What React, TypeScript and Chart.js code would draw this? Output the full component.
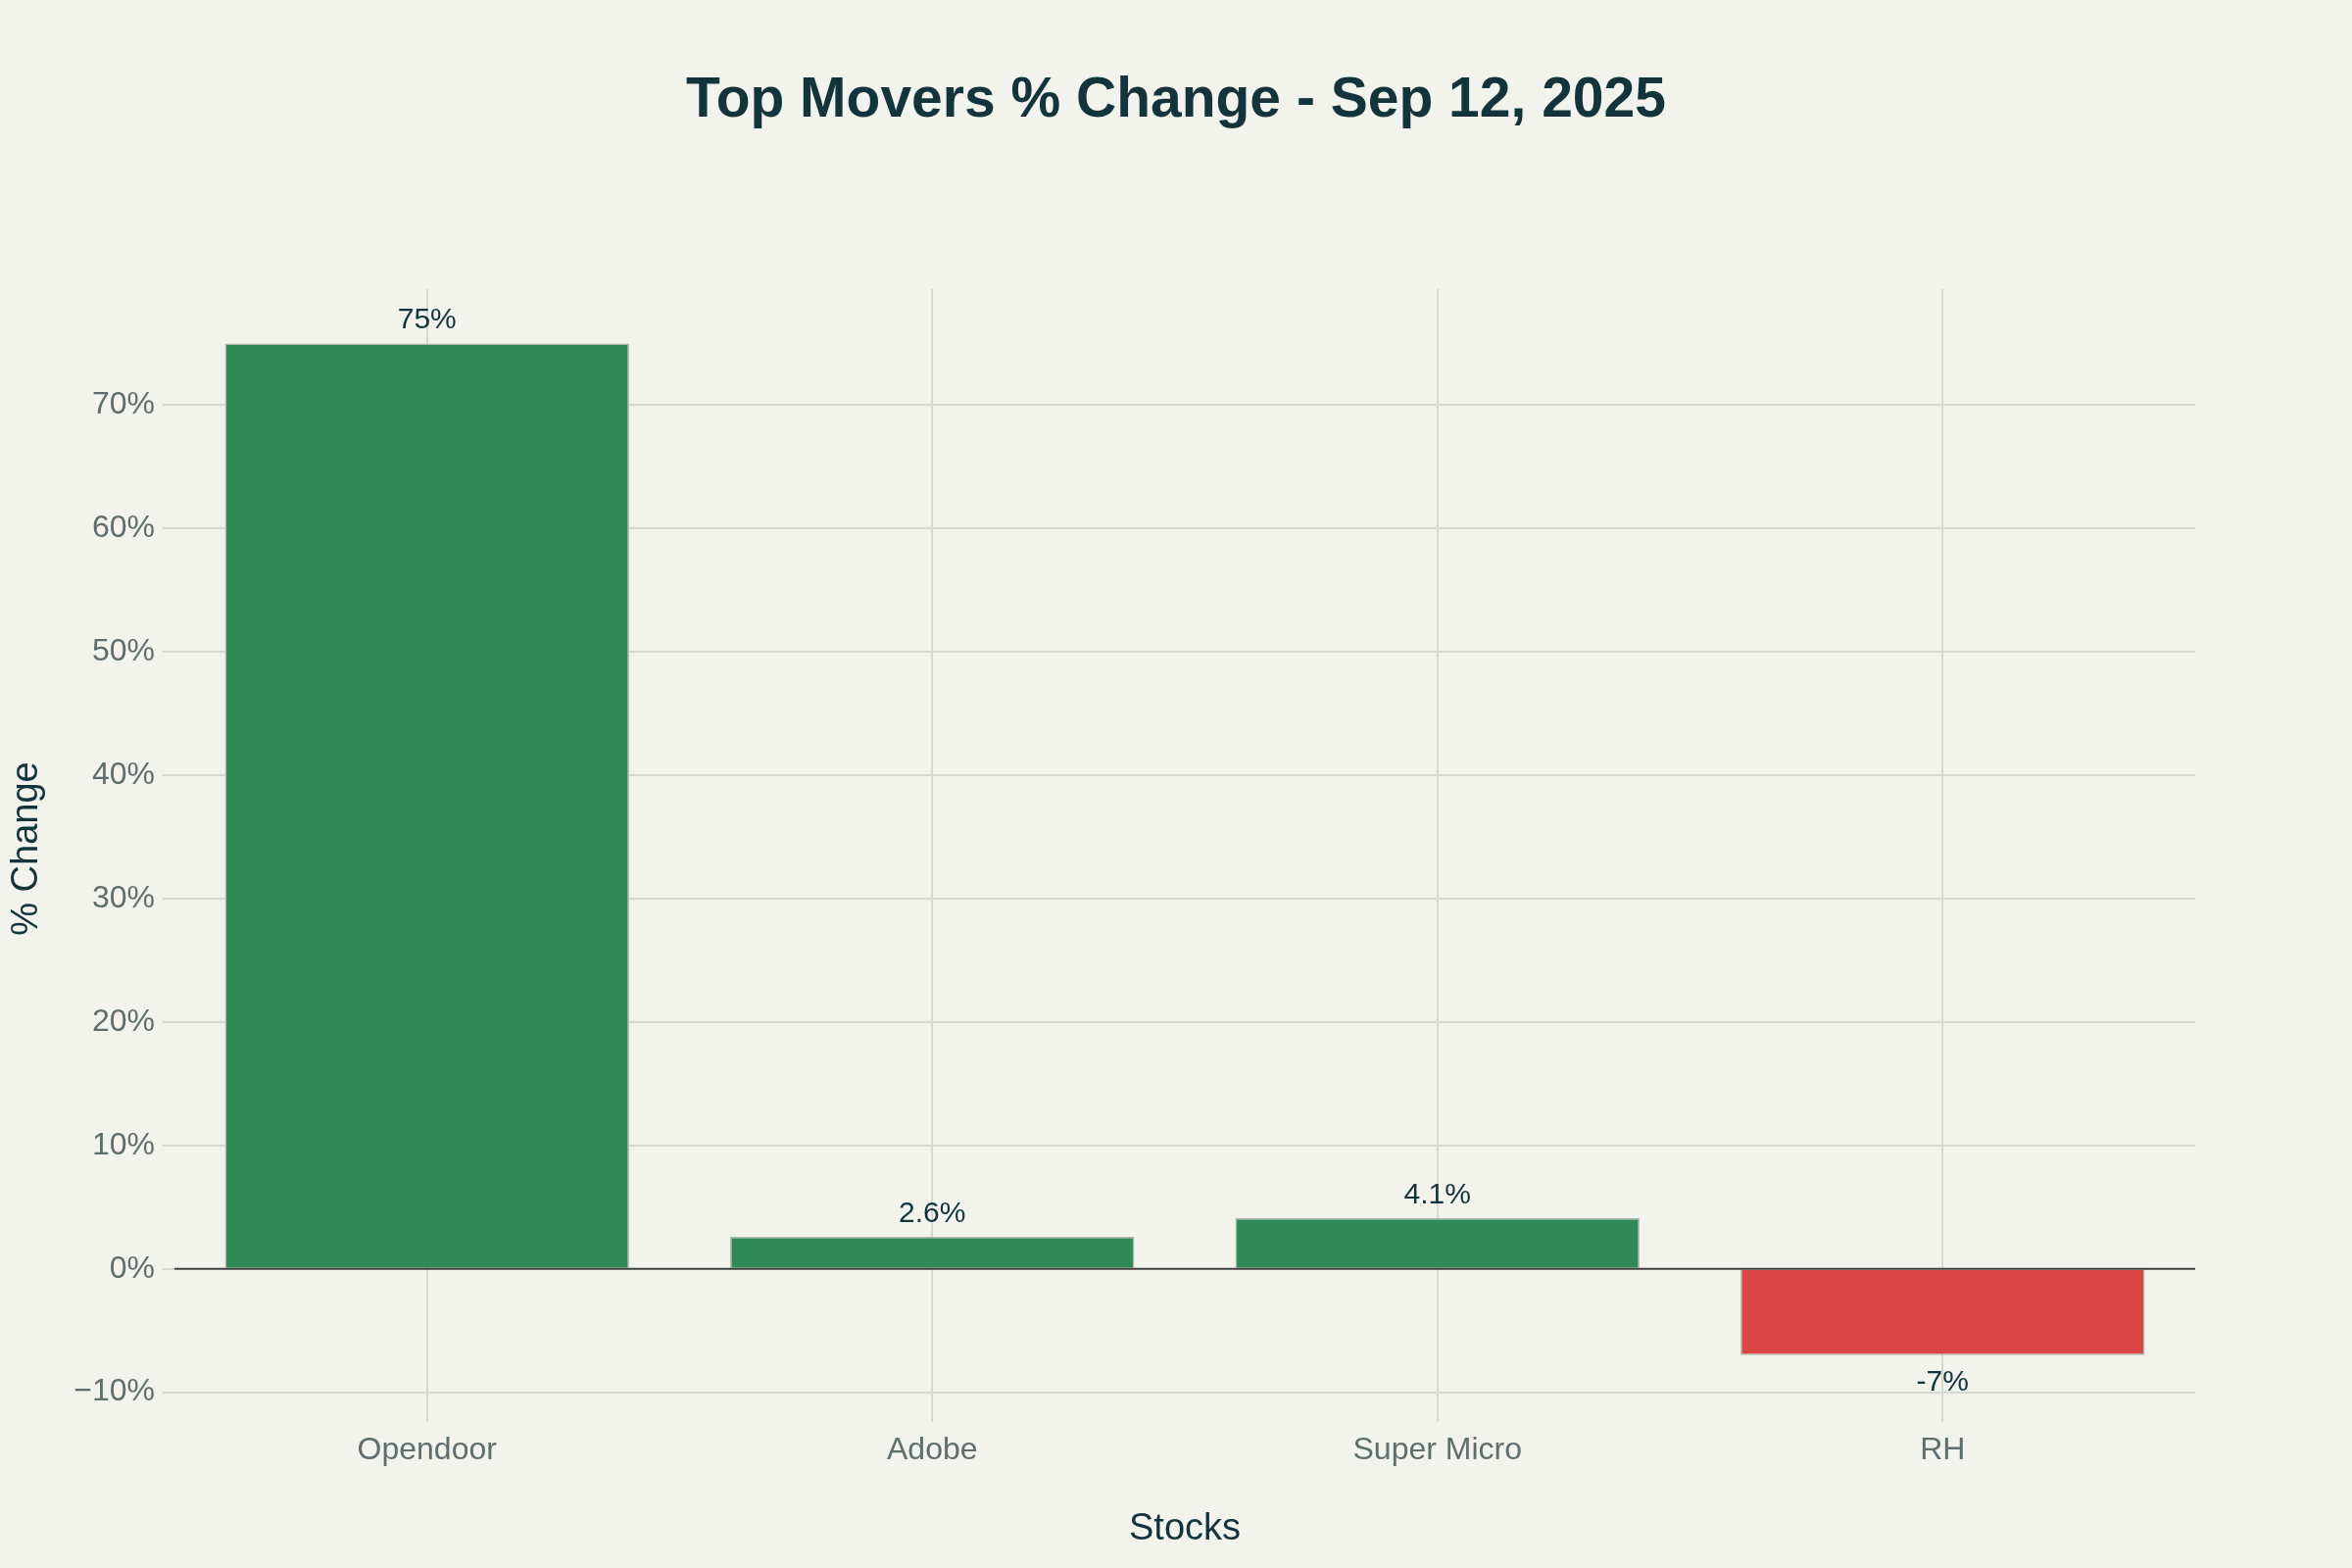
import React, { useEffect, useRef } from 'react';
import { Chart, registerables } from 'chart.js';

Chart.register(...registerables);

const categories = ['Opendoor', 'Adobe', 'Super Micro', 'RH'];
const changes = [75, 2.6, 4.1, -7];
const valueLabels = ['75%', '2.6%', '4.1%', '-7%'];
const yTickValues = [-10, 0, 10, 20, 30, 40, 50, 60, 70];
const yRange = [-11.3, 79.4];
const chartTitle = 'Top Movers % Change - Sep 12, 2025';

const FONT = "'Liberation Sans', Arial, 'Helvetica', sans-serif";
const BG = '#F3F3EE';
const GREEN = '#2E8B57';
const RED = '#DB4545';
const DARK = '#13343B';
const TICK = '#5F6D6D';
const GRID = '#D8D8D2';

const backgroundPlugin = {
  id: 'bgFill',
  beforeDraw(chart: any) {
    const ctx = chart.ctx;
    ctx.save();
    ctx.fillStyle = BG;
    ctx.fillRect(0, 0, chart.width, chart.height);
    ctx.restore();
  },
};

const titlePlugin = {
  id: 'centeredTitle',
  afterDraw(chart: any) {
    const ctx = chart.ctx;
    ctx.save();
    ctx.font = `bold 57px ${FONT}`;
    ctx.fillStyle = DARK;
    ctx.textAlign = 'center';
    ctx.textBaseline = 'middle';
    ctx.fillText(chartTitle, chart.width / 2, 103);
    ctx.restore();
  },
};

const zeroLinePlugin = {
  id: 'zeroLine',
  afterDatasetsDraw(chart: any) {
    const { ctx, chartArea, scales } = chart;
    const y = scales.y.getPixelForValue(0);
    ctx.save();
    ctx.strokeStyle = '#3E423F';
    ctx.lineWidth = 2;
    ctx.beginPath();
    ctx.moveTo(chartArea.left, y);
    ctx.lineTo(chartArea.right, y);
    ctx.stroke();
    ctx.restore();
  },
};

const valueLabelPlugin = {
  id: 'valueLabels',
  afterDatasetsDraw(chart: any) {
    const ctx = chart.ctx;
    const meta = chart.getDatasetMeta(0);
    ctx.save();
    ctx.font = `30px ${FONT}`;
    ctx.fillStyle = DARK;
    ctx.textAlign = 'center';
    ctx.textBaseline = 'alphabetic';
    meta.data.forEach((bar: any, i: number) => {
      const v = changes[i];
      const y = v >= 0 ? bar.y - 15 : bar.y + 36;
      ctx.fillText(valueLabels[i], bar.x, y);
    });
    ctx.restore();
  },
};

export default function App() {
  const canvasRef = useRef<HTMLCanvasElement | null>(null);

  useEffect(() => {
    if (!canvasRef.current) return;
    const chart = new Chart(canvasRef.current, {
      type: 'bar',
      data: {
        labels: categories,
        datasets: [
          {
            data: changes,
            backgroundColor: changes.map((v) => (v >= 0 ? GREEN : RED)),
            borderColor: '#B5B5AF',
            borderWidth: 1.5,
            barPercentage: 0.8,
            categoryPercentage: 1,
          },
        ],
      },
      options: {
        responsive: false,
        animation: false,
        devicePixelRatio: 1,
        layout: { padding: { left: 0, right: 160, top: 295, bottom: 0 } },
        plugins: {
          legend: { display: false },
          tooltip: { enabled: false },
          title: { display: false },
        },
        scales: {
          x: {
            offset: true,
            grid: {
              offset: false,
              color: GRID,
              lineWidth: 2,
              tickLength: 14,
              tickColor: GRID,
            },
            border: { display: false },
            ticks: {
              color: TICK,
              font: { family: FONT, size: 32 },
              padding: 10,
            },
            title: {
              display: true,
              text: 'Stocks',
              color: DARK,
              font: { family: FONT, size: 38 },
              padding: { top: 0, bottom: 17 },
            },
            afterFit(scale: any) {
              scale.height = 163;
            },
          },
          y: {
            min: yRange[0],
            max: yRange[1],
            afterBuildTicks(scale: any) {
              scale.ticks = yTickValues.map((v) => ({ value: v }));
            },
            grid: {
              color: (ctx: any) => (ctx.tick && ctx.tick.value === 0 ? 'rgba(0,0,0,0)' : GRID),
              lineWidth: 2,
              tickLength: 12,
              tickColor: GRID,
            },
            border: { display: false },
            ticks: {
              color: TICK,
              font: { family: FONT, size: 32 },
              padding: 8,
              callback: (v: any) => (Number(v) < 0 ? '\u2212' + Math.abs(Number(v)) : String(v)) + '%',
            },
            title: {
              display: true,
              text: '% Change',
              color: DARK,
              font: { family: FONT, size: 38 },
              padding: { top: 5, bottom: 0 },
            },
            afterFit(scale: any) {
              scale.width = 178;
            },
          },
        },
      },
      plugins: [backgroundPlugin, zeroLinePlugin, valueLabelPlugin, titlePlugin],
    });
    return () => chart.destroy();
  }, []);

  return (
    <div style={{ position: 'fixed', left: 0, top: 0, width: 2400, height: 1600, background: BG }}>
      <canvas ref={canvasRef} width={2400} height={1600} style={{ display: 'block', width: 2400, height: 1600 }} />
    </div>
  );
}
